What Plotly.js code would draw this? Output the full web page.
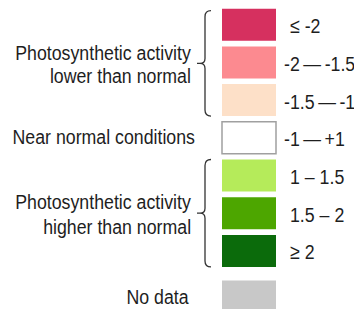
<!DOCTYPE html>
<html>
<head>
<meta charset="utf-8">
<script src="https://cdn.plot.ly/plotly-3.0.1.min.js"></script>
<style>html,body{margin:0;padding:0;background:#fff;}#chart{width:354px;height:309px;}</style>
</head>
<body>
<div id="chart"></div>
<script>
// Legend classes (top to bottom)
const classLabels = ['\u2264 -2', '-2\u2009\u2014\u2009-1.5', '-1.5\u2009\u2014\u2009-1', '-1\u2009\u2014\u2009+1', '1 \u2013 1.5', '1.5 \u2013 2', '\u2265 2', 'No data'];
const classColors = ['#d6305f', '#fc8a90', '#fde0c8', '#ffffff', '#b5eb5a', '#4da600', '#0b6b0b', '#c8c8c8'];
const groupLines = [
  ['Photosynthetic activity', 'lower than normal'],
  ['Near normal conditions'],
  ['Photosynthetic activity', 'higher than normal']
];
const groupMembers = [[0, 1, 2], [3], [4, 5, 6]];

const W = 354, H = 309;
const boxX0 = 222, boxX1 = 276, boxH = 32, step = 37.7, top0 = 8.7, noDataGap = 8;
const font = {family: 'Liberation Sans, Arial, sans-serif', size: 21, color: '#1e1e1e'};
const squeeze = 0.845;

function boxTop(i) { return top0 + i * step + (i === 7 ? noDataGap : 0); }

const shapes = [];
const annotations = [];
classLabels.forEach((lab, i) => {
  const t = boxTop(i);
  const isWhite = classColors[i] === '#ffffff';
  shapes.push({type: 'rect', xref: 'x', yref: 'y', x0: boxX0, x1: boxX1, y0: t, y1: t + boxH,
    fillcolor: classColors[i], line: {color: isWhite ? '#a0a0a0' : classColors[i], width: isWhite ? 1.5 : 0}});
  if (i < 7) {
    annotations.push({x: 282 + (lab.startsWith('-') ? 0 : 6), y: t + boxH / 2 + 1, xref: 'x', yref: 'y',
      text: lab, showarrow: false, xanchor: 'left', yanchor: 'middle', font: font});
  } else {
    annotations.push({x: 191, y: t + boxH / 2, xref: 'x', yref: 'y',
      text: lab, showarrow: false, xanchor: 'right', yanchor: 'middle', font: font});
  }
});

// group labels and braces
const lineGap = [23.5, 0, 25];
groupLines.forEach((lines, g) => {
  const mem = groupMembers[g];
  const yTop = boxTop(mem[0]) + (g === 0 ? 2 : 0);
  const yBot = boxTop(mem[mem.length - 1]) + boxH;
  const mid = (yTop + yBot) / 2;
  const xr = lines.length === 1 ? 197 : 193;
  lines.forEach((ln, k) => {
    const yy = mid + (k - (lines.length - 1) / 2) * lineGap[g] + (lines.length > 1 ? 0.5 : -1);
    annotations.push({x: xr, y: yy, xref: 'x', yref: 'y', text: ln, showarrow: false,
      xanchor: 'right', yanchor: 'middle', font: font});
  });
  if (mem.length > 1) {
    const bx = 205;
    const p = `M ${bx + 6} ${yTop} Q ${bx} ${yTop} ${bx} ${yTop + 6} L ${bx} ${mid - 5} Q ${bx} ${mid} ${bx - 5} ${mid} L ${bx - 8} ${mid} M ${bx - 5} ${mid} Q ${bx} ${mid} ${bx} ${mid + 5} L ${bx} ${yBot - 6} Q ${bx} ${yBot} ${bx + 6} ${yBot}`;
    shapes.push({type: 'path', xref: 'x', yref: 'y', path: p, line: {color: '#333', width: 1.3}});
  }
});

const layout = {
  width: W, height: H,
  margin: {l: 0, r: 0, t: 0, b: 0, pad: 0},
  paper_bgcolor: '#fff', plot_bgcolor: '#fff',
  xaxis: {range: [0, W], visible: false, fixedrange: true},
  yaxis: {range: [H, 0], visible: false, fixedrange: true},
  showlegend: false,
  shapes: shapes,
  annotations: annotations
};
Plotly.newPlot('chart', [{x: [], y: [], type: 'scatter'}], layout, {staticPlot: true, displayModeBar: false}).then(gd => {
  // condense the text horizontally (the reference uses a narrow face)
  const nodes = gd.querySelectorAll('.annotation');
  nodes.forEach((node, i) => {
    const txt = node.querySelector('text.annotation-text');
    if (!txt || !annotations[i]) return;
    txt.style.transformBox = 'fill-box';
    txt.style.transformOrigin = (annotations[i].xanchor === 'left' ? 'left' : 'right') + ' center';
    txt.style.transform = `scaleX(${squeeze})`;
  });
});
</script>
</body>
</html>
